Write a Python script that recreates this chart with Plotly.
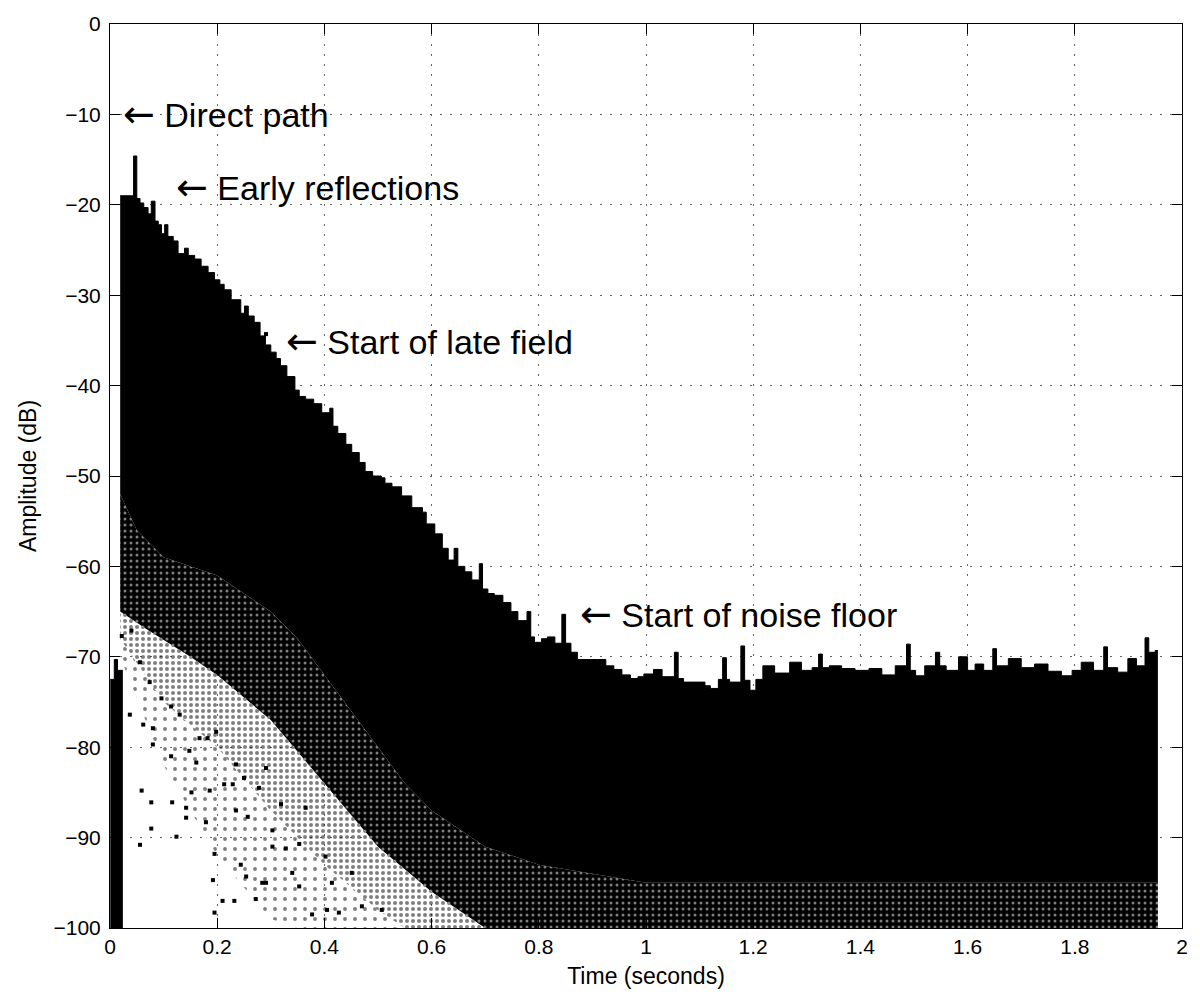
import plotly.graph_objects as go

# ---------------- data ----------------
# upper envelope of the dense impulse-response cloud (time s, amplitude dB)
env_t = [0.019, 0.040, 0.044, 0.050, 0.056, 0.063, 0.071, 0.077, 0.084, 0.090, 0.096,
         0.102, 0.108, 0.118, 0.127, 0.139, 0.146, 0.158, 0.170, 0.183, 0.195, 0.205,
         0.213, 0.226, 0.244, 0.251, 0.258, 0.269, 0.280, 0.290, 0.300, 0.310, 0.318,
         0.330, 0.345, 0.353, 0.365, 0.380, 0.395, 0.410, 0.416, 0.425, 0.440, 0.451,
         0.465, 0.476, 0.490, 0.506, 0.513, 0.526, 0.544, 0.563, 0.583, 0.590, 0.606,
         0.620, 0.631, 0.642, 0.649, 0.662, 0.675, 0.689, 0.695, 0.705, 0.717, 0.733,
         0.748, 0.761, 0.778, 0.785, 0.792, 0.805, 0.816, 0.830, 0.843, 0.850, 0.860,
         0.872, 0.890, 0.909, 0.925, 0.940, 0.955, 0.971, 0.985, 0.996, 1.014, 1.030,
         1.053, 1.060, 1.070, 1.095, 1.110, 1.120, 1.135, 1.143, 1.150, 1.156, 1.177,
         1.184, 1.194, 1.205, 1.218, 1.240, 1.268, 1.290, 1.310, 1.322, 1.329, 1.342,
         1.365, 1.390, 1.416, 1.440, 1.465, 1.486, 1.493, 1.503, 1.520, 1.540, 1.548,
         1.560, 1.583, 1.600, 1.614, 1.630, 1.647, 1.654, 1.676, 1.700, 1.725, 1.750,
         1.775, 1.795, 1.812, 1.835, 1.854, 1.861, 1.880, 1.899, 1.915, 1.931, 1.938,
         1.950, 1.955]
env_db = [-19.0, -19.0, -14.6, -19.3, -19.8, -20.3, -21.0, -19.6, -21.8, -22.2, -23.2,
          -22.2, -23.5, -24.0, -25.4, -24.8, -25.6, -26.0, -26.8, -27.5, -28.3, -28.8,
          -29.4, -30.5, -32.0, -31.2, -32.3, -33.0, -34.5, -35.5, -36.3, -37.0, -37.8,
          -39.0, -40.5, -41.2, -41.5, -42.0, -43.0, -42.5, -44.5, -45.3, -46.5, -47.4,
          -48.5, -49.5, -50.0, -50.2, -50.8, -51.2, -52.2, -53.5, -54.0, -55.3, -56.4,
          -58.0, -59.3, -58.0, -60.0, -60.6, -61.5, -59.7, -62.5, -63.0, -63.2, -64.0,
          -65.0, -66.0, -65.0, -67.8, -68.4, -68.0, -67.8, -68.5, -65.3, -68.5, -69.5,
          -70.3, -70.3, -70.3, -71.0, -71.4, -72.0, -72.4, -72.2, -71.9, -71.4, -72.2,
          -69.5, -72.4, -72.8, -72.8, -73.2, -73.5, -72.5, -70.1, -72.5, -72.8, -68.8,
          -72.6, -73.7, -72.5, -71.0, -71.8, -70.6, -71.5, -71.2, -69.7, -71.2, -71.0,
          -71.3, -71.5, -71.3, -72.0, -71.0, -68.6, -71.5, -72.1, -71.0, -69.5, -71.0,
          -71.5, -70.0, -71.5, -70.8, -71.5, -69.1, -71.0, -70.2, -71.2, -70.8, -71.6,
          -72.1, -71.5, -70.6, -71.5, -68.9, -71.2, -71.7, -70.2, -71.0, -67.9, -69.5,
          -69.3, -69.3]

# lower edge of the fully black part of the cloud
solid_lo_t = [0.019, 0.05, 0.1, 0.15, 0.2, 0.25, 0.3, 0.35, 0.4, 0.45, 0.5, 0.55,
              0.6, 0.65, 0.7, 0.8, 0.9, 1.0, 1.955]
solid_lo_db = [-52, -56, -59, -60, -61, -63, -65, -68, -72, -76, -80, -84,
               -87, -89, -91, -93, -94, -95, -95]

# lower edge of the heavily dotted part (black with white gaps)
dark_lo_t = [0.019, 0.07, 0.15, 0.2, 0.3, 0.4, 0.5, 0.6, 0.7, 1.955]
dark_lo_db = [-65, -67, -70, -72, -77, -84, -91, -96, -100, -100]

# lower edge of the medium dotted part
mid_lo_t = [0.019, 0.1, 0.2, 0.3, 0.4, 0.5, 0.55, 1.955]
mid_lo_db = [-68, -75, -80, -87, -93, -98, -100, -100]

# lower edge of the sparsely dotted part
sparse_lo_t = [0.019, 0.1, 0.2, 0.3, 0.35, 1.955]
sparse_lo_db = [-70, -82, -92, -99, -100, -100]

# pre-arrival noise stripe near t = 0
pre_t = [0.0005, 0.008, 0.014, 0.024]
pre_db = [-72.5, -70.3, -71.5, -71.5]

# isolated samples in the sparse lower-left region
pts_t = [0.059, 0.077, 0.077, 0.056, 0.124, 0.116, 0.142, 0.142, 0.179, 0.195,
         0.192, 0.210, 0.232, 0.272, 0.284, 0.195, 0.254, 0.244, 0.062, 0.080,
         0.080, 0.114, 0.148, 0.161, 0.186, 0.152, 0.213, 0.235, 0.257, 0.303,
         0.328, 0.291, 0.340, 0.353, 0.377, 0.405, 0.427, 0.470, 0.507, 0.040,
         0.022, 0.056, 0.074, 0.096, 0.114, 0.037, 0.130, 0.167, 0.182, 0.198,
         0.235, 0.250, 0.278, 0.229, 0.291, 0.319, 0.365, 0.303, 0.353, 0.402,
         0.414, 0.451, 0.291]
pts_db = [-84.8, -86.1, -89.0, -90.8, -89.9, -86.1, -86.7, -87.8, -88.3, -91.8,
          -94.7, -97.0, -97.0, -96.8, -95.0, -98.3, -94.3, -93.0, -77.5, -77.9,
          -79.7, -81.0, -80.4, -81.7, -84.8, -85.0, -84.1, -87.0, -87.7, -91.0,
          -91.2, -95.0, -93.9, -95.4, -98.5, -98.0, -98.3, -97.6, -98.0, -67.1,
          -67.7, -70.6, -72.8, -74.6, -75.5, -76.4, -76.4, -79.0, -79.0, -78.3,
          -81.9, -83.4, -84.5, -84.1, -82.3, -86.3, -86.7, -89.2, -90.7, -92.1,
          -95.0, -93.9, -34.3]

x_ticks = [0, 0.2, 0.4, 0.6, 0.8, 1, 1.2, 1.4, 1.6, 1.8, 2]
y_ticks = [0, -10, -20, -30, -40, -50, -60, -70, -80, -90, -100]

notes = ["Direct path", "Early reflections", "Start of late field", "Start of noise floor"]
notes_t = [0.020, 0.120, 0.325, 0.874]
notes_db = [-10.0, -18.0, -35.1, -65.3]

FONT = "Liberation Sans, Arial, Helvetica, sans-serif"
ARROW = '<span style="font-family:DejaVu Sans;font-size:38px">\u2190</span> '

fig = go.Figure()
no_line = dict(width=0, color="rgba(0,0,0,0)")


def band(x, y, pattern):
    fig.add_trace(go.Scatter(x=x, y=y, mode="lines", line=no_line,
                             fill="tonexty", fillcolor="rgba(0,0,0,0)",
                             fillpattern=pattern, hoverinfo="skip",
                             showlegend=False))


# base of the bands
fig.add_trace(go.Scatter(x=sparse_lo_t, y=sparse_lo_db, mode="lines", line=no_line,
                         hoverinfo="skip", showlegend=False))
band(mid_lo_t, mid_lo_db, dict(shape=".", fgcolor="black", bgcolor="rgba(0,0,0,0)",
                               size=10, solidity=0.12))
band(dark_lo_t, dark_lo_db, dict(shape=".", fgcolor="black", bgcolor="rgba(0,0,0,0)",
                                 size=6, solidity=0.35))
band(solid_lo_t, solid_lo_db, dict(shape=".", fgcolor="white", bgcolor="black",
                                   size=6, solidity=0.2))
# solid black cloud
fig.add_trace(go.Scatter(x=env_t, y=env_db, mode="lines",
                         line=dict(width=1, color="black", shape="hv"),
                         fill="tonexty", fillcolor="black",
                         hoverinfo="skip", showlegend=False))

# pre-arrival stripe
fig.add_trace(go.Scatter(x=[pre_t[0], pre_t[-1]], y=[-100, -100], mode="lines",
                         line=no_line, hoverinfo="skip", showlegend=False))
fig.add_trace(go.Scatter(x=pre_t, y=pre_db, mode="lines",
                         line=dict(width=1, color="black", shape="hv"),
                         fill="tonexty", fillcolor="black",
                         hoverinfo="skip", showlegend=False))

# isolated samples
fig.add_trace(go.Scatter(x=pts_t, y=pts_db, mode="markers",
                         marker=dict(symbol="square", size=4, color="black",
                                     line=dict(width=0)),
                         hoverinfo="skip", showlegend=False))

for txt, tx, ty in zip(notes, notes_t, notes_db):
    fig.add_annotation(x=tx, y=ty, text=ARROW + txt, showarrow=False, xanchor="left",
                       yanchor="middle", font=dict(family=FONT, size=34, color="black"))

axis_common = dict(showline=True, linecolor="black", linewidth=1, mirror="ticks",
                   ticks="inside", ticklen=10, tickcolor="black", tickwidth=1,
                   showgrid=True, gridcolor="#666666", gridwidth=1,
                   griddash="2px,8px", zeroline=False,
                   tickfont=dict(family=FONT, size=21, color="black"))

fig.update_xaxes(range=[0, 2], tickvals=x_ticks,
                 ticktext=[("%g" % v) for v in x_ticks],
                 title=dict(text="Time (seconds)", standoff=10,
                            font=dict(family=FONT, size=23, color="black")),
                 **axis_common)
fig.update_yaxes(range=[-100, 0], tickvals=y_ticks,
                 ticktext=[("\u2212%g" % -v if v < 0 else "%g" % v) for v in y_ticks],
                 ticklabelstandoff=4,
                 title=dict(text="Amplitude (dB)", standoff=10,
                            font=dict(family=FONT, size=23, color="black")),
                 **axis_common)

fig.update_layout(width=1200, height=998, margin=dict(l=110, r=12, t=16, b=70),
                  paper_bgcolor="white", plot_bgcolor="white",
                  font=dict(family=FONT, color="black"))

fig.write_html("out.html")
